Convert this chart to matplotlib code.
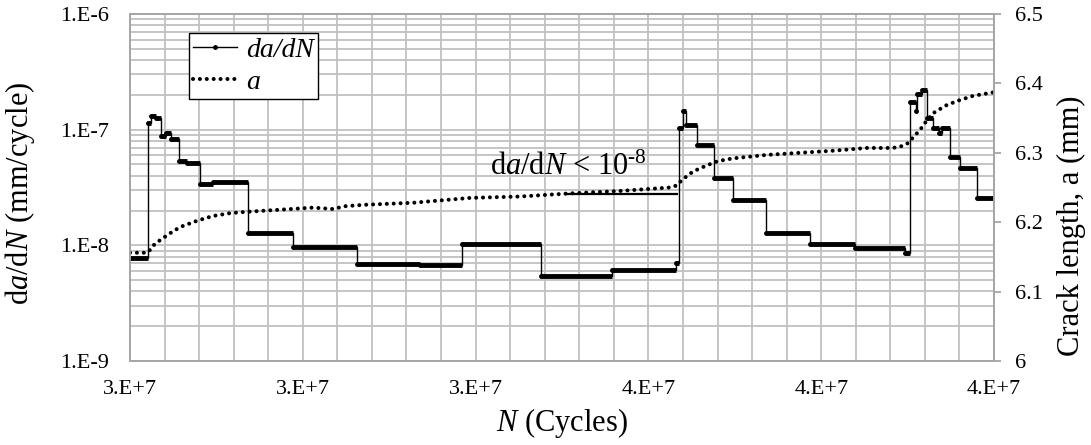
import numpy as np
import matplotlib.pyplot as plt
from matplotlib.lines import Line2D
from matplotlib.ticker import FuncFormatter, MultipleLocator, LogLocator, NullFormatter

plt.rcParams['font.family'] = ['Liberation Serif', 'DejaVu Serif']
plt.rcParams['mathtext.fontset'] = 'custom'
plt.rcParams['mathtext.rm'] = 'Liberation Serif'
plt.rcParams['mathtext.it'] = 'Liberation Serif:italic'

# da/dN held constant from each N in n_steps to the next one
n_steps = [3.0000e7, 3.0208e7, 3.0243e7, 3.0301e7, 3.0359e7, 3.0417e7, 3.0475e7,
           3.0567e7, 3.0660e7, 3.0810e7, 3.0961e7, 3.1366e7, 3.1887e7, 3.2627e7,
           3.3356e7, 3.3843e7, 3.4757e7, 3.5579e7, 3.6319e7, 3.6354e7, 3.6400e7,
           3.6435e7, 3.6563e7, 3.6759e7, 3.6979e7, 3.7361e7, 3.7870e7, 3.8391e7,
           3.8970e7, 3.9028e7, 3.9097e7, 3.9109e7, 3.9167e7, 3.9225e7, 3.9294e7,
           3.9363e7, 3.9398e7, 3.9491e7, 3.9606e7, 3.9803e7]
n_last = 4.0e7
dadn = [7.8e-9, 1.15e-7, 1.31e-7, 1.27e-7, 8.8e-8, 9.4e-8, 8.3e-8,
        5.4e-8, 5.1e-8, 3.37e-8, 3.5e-8, 1.27e-8, 9.6e-9, 6.9e-9,
        6.8e-9, 1.03e-8, 5.45e-9, 6.15e-9, 7.1e-9, 1.03e-7, 1.45e-7,
        1.1e-7, 7.3e-8, 3.8e-8, 2.48e-8, 1.27e-8, 1.03e-8, 9.4e-9,
        8.65e-9, 1.75e-7, 1.45e-7, 2.05e-7, 2.22e-7, 1.25e-7, 1.03e-7,
        9.4e-8, 1.03e-7, 5.85e-8, 4.7e-8, 2.58e-8]

# crack length a (mm)
n_crack = [3.0000e7, 3.0185e7, 3.0220e7, 3.0255e7, 3.0347e7, 3.0463e7, 3.0579e7,
           3.0775e7, 3.0961e7, 3.1157e7, 3.1354e7, 3.1736e7, 3.2118e7, 3.2350e7,
           3.2488e7, 3.2697e7, 3.3275e7, 3.3935e7, 3.4514e7, 3.5093e7, 3.5671e7,
           3.6250e7, 3.6331e7, 3.6389e7, 3.6516e7, 3.6678e7, 3.6806e7, 3.6979e7,
           3.7373e7, 3.7755e7, 3.8137e7, 3.8530e7, 3.8831e7, 3.8947e7, 3.9005e7,
           3.9062e7, 3.9144e7, 3.9225e7, 3.9294e7, 3.9456e7, 3.9606e7, 3.9757e7,
           3.9988e7]
crack = [6.156, 6.156, 6.158, 6.165, 6.174, 6.184, 6.193,
         6.202, 6.209, 6.213, 6.215, 6.218, 6.221, 6.219,
         6.223, 6.225, 6.228, 6.235, 6.237, 6.2415, 6.245,
         6.250, 6.253, 6.261, 6.273, 6.282, 6.288, 6.292,
         6.297, 6.300, 6.303, 6.307, 6.307, 6.310, 6.314,
         6.322, 6.333, 6.347, 6.357, 6.369, 6.376, 6.382,
         6.387]

# threshold line under the label
thr_n = [3.5035e7, 3.6330e7]
thr_rate = [2.77e-8, 2.77e-8]

grid_col = '#c0c0c0'
spine_col = '#a6a6a6'
dots = (0, (0.01, 1.7))

fig, ax1 = plt.subplots(figsize=(10.91, 4.45), dpi=100)
fig.subplots_adjust(left=130/1091, right=994/1091, bottom=1-361/445, top=1-14/445)

ax1.set_yscale('log')
ax1.set_xlim(3.0e7, 4.0e7)
ax1.set_ylim(1e-9, 1e-6)

ax1.xaxis.set_major_locator(MultipleLocator(2e6))
ax1.xaxis.set_minor_locator(MultipleLocator(4e5))
ax1.yaxis.set_major_locator(LogLocator(base=10))
ax1.yaxis.set_minor_locator(LogLocator(base=10, subs=np.arange(2, 10)))
ax1.yaxis.set_minor_formatter(NullFormatter())
ax1.xaxis.set_major_formatter(FuncFormatter(lambda v, p: '%d.E+7' % round(v / 1e7)))
ax1.yaxis.set_major_formatter(FuncFormatter(lambda v, p: '1.E%d' % round(np.log10(v))))

ax1.grid(which='both', color=grid_col, lw=1.3)
ax1.set_axisbelow(True)
ax1.tick_params(which='both', length=0, labelsize=16)
ax1.tick_params(axis='y', pad=15)
ax1.tick_params(axis='x', pad=14)
for s in ax1.spines.values():
    s.set_color(spine_col)
    s.set_linewidth(1.3)

# da/dN steps: thin risers, heavy plateaus from the dense data markers
edges = n_steps + [n_last]
ax1.stairs(dadn, edges, baseline=None, color='black', lw=1)
ax1.hlines(dadn, n_steps, edges[1:], color='black', lw=3.5)
ax1.plot(n_steps, dadn, '.', color='black', ms=5)
ax1.plot(thr_n, thr_rate, color='black', lw=1.6)

ax1.text(3.4167e7, 4.06e-8, r'd$\mathit{a}$/d$\mathit{N}$ < 10$^{\text{-8}}$', fontsize=22,
         ha='left', va='baseline')

ax1.set_xlabel(r'$\mathit{N}$ (Cycles)', fontsize=22, labelpad=5)
ax1.set_ylabel(r'd$\mathit{a}$/d$\mathit{N}$ (mm/cycle)', fontsize=22)
ax1.yaxis.set_label_coords(-0.108, 0.484)

ax2 = ax1.twinx()
ax2.set_ylim(6, 6.5)
ax2.yaxis.set_major_locator(MultipleLocator(0.1))
ax2.yaxis.set_major_formatter(FuncFormatter(lambda v, p: '%g' % round(v, 1)))
ax2.plot(n_crack, crack, color='black', lw=2.9, linestyle=dots, dash_capstyle='round')
ax2.tick_params(axis='y', length=5, color=spine_col, width=1.3, labelsize=16, pad=10)
for s in ax2.spines.values():
    s.set_color(spine_col)
    s.set_linewidth(1.3)
ax2.set_ylabel('Crack length, a (mm)', fontsize=22)
ax2.yaxis.set_label_coords(1.073, 0.389)

handles = [Line2D([], [], color='black', lw=1, marker='.', ms=5),
           Line2D([], [], color='black', lw=2.9, linestyle=dots, dash_capstyle='round')]
leg = ax2.legend(handles, ['da/dN', 'a'], loc='upper left', bbox_to_anchor=(0.068, 0.945),
                 borderaxespad=0, fancybox=False, framealpha=1, edgecolor='black',
                 handlelength=1.6, handletextpad=0.3, borderpad=0.15, labelspacing=0.25,
                 prop={'family': 'Liberation Serif', 'style': 'italic', 'size': 20})
leg.get_frame().set_linewidth(1)

fig.savefig('out.png', dpi=100)
